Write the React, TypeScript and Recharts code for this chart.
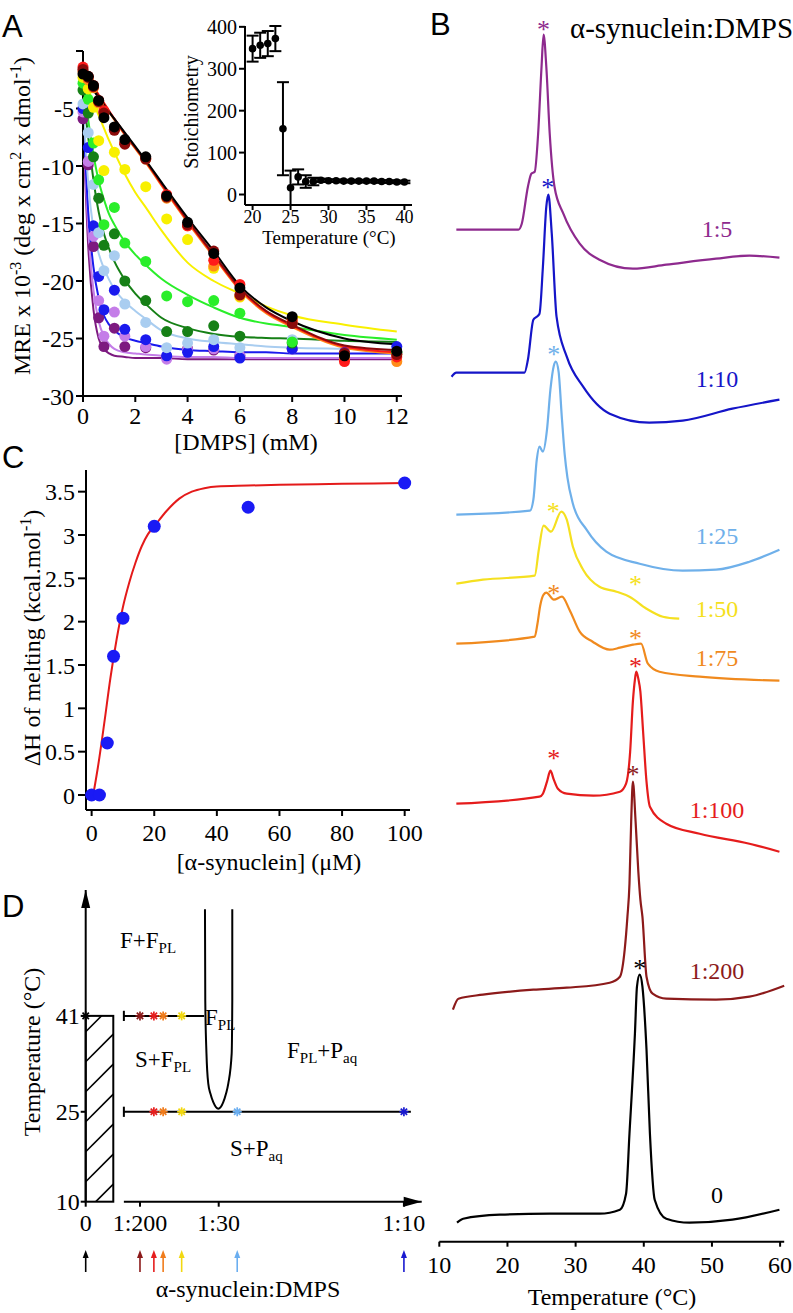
import React from 'react';
import {
  ComposedChart, Line, Scatter, XAxis, YAxis, ErrorBar, ReferenceLine, ReferenceArea, Cell,
} from 'recharts';

const SERIF = '"Liberation Serif", "Times New Roman", serif';
const SANS = '"Liberation Sans", Arial, sans-serif';

// ---------- A: MRE vs [DMPS] (points + fits, one trace per temperature)
const dmpsMM = [0, 0.2, 0.4, 0.6, 0.8, 1.2, 1.6, 2.4, 3.2, 4, 5, 6, 8, 10, 12];
const mrePurple = [-5.9, -9.9, -17.0, -23.2, -25.7, -24.1, -25.7, -25.8, -26.6, -25.9, -26.0, -26.5, -25.9, -26.2, -26.3];
const mreViolet = [-5.3, -9.6, -16.1, -21.7, -24.8, -22.7, -24.8, -25.7, -26.8, -26.0, -25.9, -26.5, -25.9, -26.4, -26.3];
const mreBlue = [-5.0, -8.4, -15.2, -19.6, -22.5, -20.8, -24.2, -25.1, -26.5, -26.2, -25.7, -26.7, -25.9, -26.4, -25.7];
const mreSky = [-4.6, -7.1, -11.6, -15.8, -19.1, -17.8, -22.0, -23.6, -25.8, -25.4, -25.1, -25.8, -25.1, -26.4, -26.2];
const mreGreen = [-3.4, -5.4, -9.2, -12.8, -16.9, -15.9, -20.0, -21.7, -24.4, -24.4, -23.9, -24.8, -25.4, -26.4, -26.2];
const mreLime = [-2.8, -4.2, -8.0, -11.2, -15.1, -13.6, -16.7, -18.3, -21.3, -21.8, -21.7, -22.8, -25.3, -26.4, -26.2];
const mreYellow = [-2.3, -3.3, -4.9, -7.8, -10.4, -8.8, -10.3, -11.8, -14.6, -16.4, -18.9, -21.4, -23.3, -26.4, -26.4];
const mreOrange = [-1.8, -2.5, -3.2, -4.5, -5.3, -6.8, -8.0, -9.4, -12.8, -15.2, -18.7, -21.3, -23.6, -26.8, -27.0];
const mreRed = [-1.4, -2.2, -3.0, -4.3, -5.2, -6.8, -8.0, -9.3, -12.5, -15.2, -18.2, -20.3, -23.4, -27.0, -26.6];
const mreDarkRed = [-1.6, -2.3, -3.1, -4.4, -5.4, -6.9, -8.1, -9.4, -12.7, -15.1, -17.4, -21.2, -23.7, -26.3, -26.4];
const mreBlack = [-2.0, -2.2, -3.0, -4.3, -5.8, -6.6, -7.7, -9.2, -12.6, -14.9, -17.6, -20.6, -23.1, -26.5, -26.1];

const fitMM = [0, 0.2, 0.4, 0.6, 0.8, 1, 1.2, 1.6, 2, 2.4, 3, 4, 5, 6, 7, 8, 10, 12];
const fitPurple = [-6.0, -17.0, -22.5, -25.0, -25.9, -26.3, -26.5, -26.6, -26.7, -26.7, -26.7, -26.8, -26.8, -26.8, -26.8, -26.8, -26.8, -26.8];
const fitViolet = [-5.5, -15.5, -20.8, -23.5, -24.8, -25.5, -25.9, -26.2, -26.3, -26.4, -26.5, -26.6, -26.6, -26.7, -26.7, -26.7, -26.7, -26.7];
const fitBlue = [-5.0, -14.0, -18.8, -21.5, -23.0, -23.8, -24.3, -24.9, -25.2, -25.4, -25.7, -26.0, -26.1, -26.2, -26.2, -26.3, -26.3, -26.3];
const fitSky = [-4.5, -11.5, -15.5, -17.6, -18.9, -19.9, -20.7, -21.8, -22.6, -23.3, -24.3, -25.0, -25.3, -25.5, -25.7, -25.8, -25.9, -26.0];
const fitGreen = [-3.5, -7.5, -11.2, -14.0, -15.9, -17.2, -18.3, -19.9, -21.1, -22.0, -23.2, -24.1, -24.6, -24.85, -24.95, -25.0, -25.2, -25.3];
const fitLime = [-2.8, -6.0, -9.0, -11.3, -12.9, -14.2, -15.1, -16.6, -17.7, -18.6, -19.8, -21.2, -22.3, -23.2, -23.7, -24.0, -24.7, -25.1];
const fitYellow = [-2.2, -3.3, -4.5, -5.6, -6.7, -7.8, -8.8, -10.7, -12.3, -13.6, -15.6, -18.4, -20.0, -21.1, -22.2, -23.0, -23.8, -24.4];
const fitOrange = [-1.8, -2.5, -3.2, -3.9, -4.6, -5.3, -6.0, -7.3, -8.5, -9.7, -11.7, -14.9, -17.9, -20.8, -22.8, -24.0, -25.8, -26.3];
const fitRed = [-1.5, -2.3, -3.1, -3.8, -4.5, -5.2, -5.9, -7.2, -8.4, -9.6, -11.6, -14.8, -17.8, -20.7, -22.7, -23.9, -25.7, -26.2];
const fitDarkRed = [-1.7, -2.4, -3.2, -3.9, -4.6, -5.3, -5.9, -7.2, -8.4, -9.6, -11.5, -14.7, -17.7, -20.6, -22.6, -23.8, -25.6, -26.0];
const fitBlack = [-2.0, -2.7, -3.4, -4.1, -4.7, -5.3, -5.9, -7.1, -8.3, -9.5, -11.4, -14.5, -17.4, -20.4, -22.3, -23.5, -25.0, -25.5];

// inset: stoichiometry vs temperature
const insetTemp = [20, 21, 22, 23, 24, 25, 26, 27, 28, 29, 30, 31, 32, 33, 34, 35, 36, 37, 38, 39, 40];
const stoich = [348, 356, 360, 372, 157, 16, 42, 31, 31, 34, 33, 33, 32, 32, 32, 32, 32, 31, 31, 30, 30];
const stoichErr = [31, 30, 30, 30, 111, 41, 18, 15, 9, 4, 3, 3, 3, 3, 3, 3, 3, 3, 3, 3, 3];

// ---------- C: enthalpy vs [alpha-synuclein]
const synUM = [0, 2.5, 5, 7, 10, 20, 50, 100];
const dHmelt = [0, 0, 0.6, 1.6, 2.04, 3.1, 3.32, 3.6];
const fitUM = [0.5, 2, 4, 6, 8, 10, 12, 14, 16, 18, 20, 24, 28, 32, 36, 40, 50, 60, 80, 100];
const fitDH = [0, 0.32, 0.82, 1.35, 1.8, 2.17, 2.45, 2.68, 2.87, 3.01, 3.1, 3.28, 3.42, 3.5, 3.54, 3.56, 3.57, 3.58, 3.59, 3.6];

// ---------- B: DSC thermograms (offset Cp, arbitrary units)
const t5 = [12.5, 21.6, 22.1, 23.0, 23.5, 24.0, 24.5, 25.0, 25.3, 25.7, 26.2, 26.9, 28.2, 30.6, 33.5, 38.4, 43.3, 50.6, 55.5, 59.9];
const cp5 = [1012, 1012, 1018, 1055, 1068, 1070, 1108, 1175, 1207, 1175, 1108, 1055, 1028, 998, 982, 973, 977, 983, 986, 984];
const t10 = [11.8, 12.5, 22.5, 23.0, 23.8, 24.3, 24.7, 25.2, 25.7, 26.0, 26.5, 27.2, 28.7, 31.1, 35.0, 40.8, 45.7, 53.0, 59.9];
const cp10 = [865, 869, 869, 882, 922, 925, 928, 975, 1035, 1047, 1008, 925, 885, 855, 828, 819, 821, 833, 842];
const t25 = [12.5, 23.3, 23.8, 24.3, 24.7, 25.2, 25.8, 26.3, 26.8, 27.1, 27.5, 28.0, 28.4, 28.8, 29.6, 31.6, 34.5, 39.4, 45.7, 50.6, 55.5, 59.9];
const cp25 = [727, 731, 742, 782, 795, 790, 812, 852, 876, 880, 870, 822, 787, 764, 738, 712, 690, 678, 671, 672, 680, 692];
const t50 = [12.5, 16.4, 24.0, 24.6, 25.3, 26.4, 27.9, 28.7, 29.6, 31.1, 33.5, 36.0, 37.9, 40.4, 42.8, 45.2];
const cp50 = [658, 662, 666, 692, 716, 710, 730, 722, 695, 672, 655, 650, 645, 633, 625, 623];
const t75 = [12.5, 24.0, 24.4, 24.8, 25.3, 25.7, 26.8, 28.0, 29.1, 30.6, 32.5, 35.0, 36.5, 38.4, 39.6, 40.6, 42.3, 48.2, 59.9];
const cp75 = [598, 605, 618, 636, 647, 649, 642, 645, 632, 610, 600, 592, 594, 597, 598, 578, 570, 565, 561];
const t100 = [12.5, 24.7, 25.2, 25.8, 26.3, 26.8, 27.4, 28.7, 32.6, 36.5, 37.4, 38.0, 38.4, 38.7, 38.9, 39.2, 39.5, 39.9, 40.4, 40.9, 43.3, 48.2, 55.5, 59.9];
const cp100 = [438, 445, 448, 460, 471, 462, 453, 448, 446, 450, 458, 490, 540, 562, 570, 563, 550, 510, 460, 435, 418, 408, 398, 390];
const t200 = [12.0, 12.8, 16.4, 23.8, 28.7, 35.0, 36.5, 37.2, 37.6, 37.9, 38.15, 38.4, 38.8, 39.2, 39.5, 39.8, 40.4, 41.3, 43.3, 50.6, 55.5, 60.6];
const cp200 = [232, 243, 247, 252, 254, 259, 265, 292, 325, 358, 420, 460, 420, 370, 342, 325, 265, 248, 243, 242, 245, 256];
const t0 = [12.6, 13.5, 18.9, 26.2, 33.5, 36.5, 37.4, 37.9, 38.7, 39.0, 39.4, 39.8, 40.4, 40.9, 41.6, 43.3, 46.7, 53.0, 59.9];
const cp0 = [19, 23, 27, 28, 28, 32, 48, 108, 208, 255, 267, 255, 192, 108, 42, 23, 19, 22, 32];

const bStarT = [25.3, 25.9, 26.8, 26.7, 38.8, 26.8, 38.8, 26.8, 38.8, 38.4, 39.4];
const bStarCp = [1217, 1059, 892, 735, 662, 653, 608, 488, 580, 472, 278];
const bLabels = ['1:5', '1:10', '1:25', '1:50', '1:75', '1:100', '1:200', '0'];

// ---------- D: phase diagram (x = protein:lipid ratio, broken axis)
const lipidOnlyPos = -0.01454; // where the 0 sample sits, left of the break
const axisStart = -0.0008;
const boxRight = -0.00461;
const dXMax = 0.1064;
const dTicks = [lipidOnlyPos, 1 / 200, 1 / 30, 1 / 10];
const dTickLabels = ['0', '1:200', '1:30', '1:10'];
const line41End = 0.0281;
const line25End = 0.1025;
const uRatio = [0.02839, 0.0285, 0.02893, 0.02958, 0.03037, 0.03138, 0.03318, 0.03498, 0.03595, 0.03678, 0.038, 0.03822, 0.03822];
const uTemp = [58.8, 43.5, 34.7, 29.7, 28.0, 26.6, 25.5, 26.6, 28.0, 29.7, 34.7, 43.5, 58.8];
const star41 = [lipidOnlyPos, 1 / 200, 1 / 100, 1 / 75, 1 / 50];
const star25 = [1 / 100, 1 / 75, 1 / 50, 1 / 25, 1 / 10];
const sampleRatios = [lipidOnlyPos, 1 / 200, 1 / 100, 1 / 75, 1 / 50, 1 / 25, 1 / 10];

const C = {
  purple: '#7d1a80', violet: '#c47de8', blue: '#1a1aee', sky: '#a9cdf0', green: '#168016',
  lime: '#2aee2a', yellow: '#f8f000', orange: '#ff8c1a', red: '#ff1a1a', darkred: '#8b0a0a', black: '#000',
};
const B = {
  purple: '#8e2a8e', blue: '#1515c8', sky: '#6fb0ea', yellow: '#f5e020', orange: '#f08a1e',
  red: '#e51c1c', darkred: '#8c1a1a', black: '#000',
};

const pts = (xs: number[], ys: number[]) => xs.map((x, i) => ({ x, y: ys[i] }));

const aSeries = [
  { c: C.purple, p: mrePurple, f: fitPurple },
  { c: C.violet, p: mreViolet, f: fitViolet },
  { c: C.blue, p: mreBlue, f: fitBlue },
  { c: C.sky, p: mreSky, f: fitSky },
  { c: C.green, p: mreGreen, f: fitGreen },
  { c: C.lime, p: mreLime, f: fitLime },
  { c: C.yellow, p: mreYellow, f: fitYellow },
  { c: C.orange, p: mreOrange, f: fitOrange },
  { c: C.red, p: mreRed, f: fitRed },
  { c: C.darkred, p: mreDarkRed, f: fitDarkRed },
  { c: C.black, p: mreBlack, f: fitBlack },
];

const bSeries = [
  { c: B.purple, t: t5, v: cp5 },
  { c: B.blue, t: t10, v: cp10 },
  { c: B.sky, t: t25, v: cp25 },
  { c: B.yellow, t: t50, v: cp50 },
  { c: B.orange, t: t75, v: cp75 },
  { c: B.red, t: t100, v: cp100 },
  { c: B.darkred, t: t200, v: cp200 },
  { c: B.black, t: t0, v: cp0 },
];
const bStarColors = [B.purple, B.blue, B.sky, B.yellow, B.yellow, B.orange, B.orange, B.red, B.red, B.darkred, B.black];
const bLabelBase = [237, 387, 544, 617, 666, 818, 979, 1203];

const dStarColors41 = ['#000', '#8b1a1a', '#e61e1e', '#f07c1c', '#f2d810'];
const dStarColors25 = ['#e61e1e', '#f07c1c', '#f2d810', '#6aaef0', '#1a1ad0'];
const sampleColors = ['#000', '#8b1a1a', '#e61e1e', '#f07c1c', '#f2d810', '#6aaef0', '#1a1ad0'];

const axisPen = { stroke: '#000', strokeWidth: 2 };

// serif tick text; dy centres y-axis labels on the tick, hangs x-axis labels below it
const serifTick = (size: number, dy: string, fmt?: (v: any, i: number) => string) => (p: any) => (
  <text x={p.x} y={p.y} dy={dy} textAnchor={p.textAnchor} fontSize={size} fontFamily={SERIF} fill="#000">
    {fmt ? fmt(p.payload.value, p.index) : String(p.payload.value)}
  </text>
);

const circle = (r: number) => (p: any) => <circle cx={p.cx} cy={p.cy} r={r} fill={p.fill} />;
const bStar = (p: any) => (
  <text x={p.cx} y={p.cy + 13} textAnchor="middle" fontSize={26} fontFamily={SERIF} fill={p.fill}>*</text>
);
const dStar = (p: any) => (
  <g stroke={p.fill} strokeWidth={1.7}>
    {[0, 45, 90, 135].map((a) => {
      const dx = 4.5 * Math.cos((a * Math.PI) / 180);
      const dy = 4.5 * Math.sin((a * Math.PI) / 180);
      return <line key={a} x1={p.cx - dx} y1={p.cy - dy} x2={p.cx + dx} y2={p.cy + dy} />;
    })}
  </g>
);
const upHead = (p: any) => <path d={`M${p.cx},${p.cy} l-4.5,18 l9,0 z`} fill="#000" />;
const rightHead = (p: any) => <path d={`M${p.cx},${p.cy} l-18,-5 l0,10 z`} fill="#000" />;
const sampleArrow = (p: any) => (
  <g>
    <line x1={p.cx} y1={p.cy + 11} x2={p.cx} y2={p.cy - 5} stroke={p.fill} strokeWidth={1.6} />
    <path d={`M${p.cx},${p.cy - 11} l-3,8 l6,0 z`} fill={p.fill} />
  </g>
);
const hatchBox = (p: any) => {
  const { x, y, width, height } = p;
  const segs = [];
  for (let c = y + height + 10; c > y - width; c -= 30) {
    segs.push(<line key={c} x1={x} y1={c} x2={x + width} y2={c - width} />);
  }
  return (
    <g>
      <clipPath id="hatch-clip"><rect x={x} y={y} width={width} height={height} /></clipPath>
      <g clipPath="url(#hatch-clip)" stroke="#000" strokeWidth={1.6}>{segs}</g>
      <rect x={x} y={y} width={width} height={height} fill="none" stroke="#000" strokeWidth={2} />
    </g>
  );
};

const abs = (left: number, top: number) => ({ position: 'absolute' as const, left, top });

function PanelA() {
  return (
    <div style={abs(0, 0)}>
      <ComposedChart width={410} height={460} margin={{ top: 51, right: 8, bottom: 34, left: 20 }}>
        <XAxis type="number" dataKey="x" domain={[0, 12.2]} ticks={[0, 2, 4, 6, 8, 10, 12]} interval={0}
          axisLine={axisPen} tickLine={axisPen} tickSize={6} tickMargin={5} tick={serifTick(24, '0.71em')} height={30} />
        <YAxis type="number" domain={[-30, 0]} ticks={[-30, -25, -20, -15, -10, -5, 0]} interval={0} width={63}
          axisLine={axisPen} tickLine={axisPen} tickSize={7} tickMargin={2}
          tick={serifTick(24, '0.355em', (v) => (v === 0 ? '' : String(v)))} />
        {aSeries.map((s, i) => (
          <Line key={`f${i}`} data={pts(fitMM, s.f)} dataKey="y" type="monotone" stroke={s.c} strokeWidth={2}
            dot={false} isAnimationActive={false} />
        ))}
        {aSeries.map((s, i) => (
          <Scatter key={`p${i}`} data={pts(dmpsMM, s.p)} dataKey="y" fill={s.c} shape={circle(5.5)}
            isAnimationActive={false} />
        ))}
      </ComposedChart>
    </div>
  );
}

function InsetA() {
  const data = insetTemp.map((t, i) => ({ x: t, y: stoich[i], err: stoichErr[i] }));
  return (
    <div style={abs(185, 10)}>
      <ComposedChart width={236} height={240} margin={{ top: 16, right: 9, bottom: 20, left: 0 }}>
        <XAxis type="number" dataKey="x" domain={[19, 41]} ticks={[20, 25, 30, 35, 40]} interval={0}
          axisLine={axisPen} tickLine={axisPen} tickSize={5} tickMargin={0} tick={serifTick(18, '0.71em')} height={25} />
        <YAxis type="number" domain={[-21, 400]} ticks={[0, 100, 200, 300, 400]} interval={0} width={60}
          axisLine={axisPen} tickLine={axisPen} tickSize={6} tickMargin={2} tick={serifTick(20, '0.355em')} />
        <Scatter data={data} dataKey="y" fill="#000" shape={circle(3.8)} isAnimationActive={false}>
          <ErrorBar dataKey="err" direction="y" width={6} stroke="#000" strokeWidth={2} isAnimationActive={false} />
        </Scatter>
      </ComposedChart>
    </div>
  );
}

function PanelC() {
  return (
    <div style={abs(0, 440)}>
      <ComposedChart width={440} height={440} margin={{ top: 30, right: 30, bottom: 40, left: 0 }}>
        <XAxis type="number" dataKey="x" domain={[-1.8, 101.7]} ticks={[0, 20, 40, 60, 80, 100]} interval={0}
          axisLine={axisPen} tickLine={axisPen} tickSize={6} tickMargin={8} tick={serifTick(24, '0.71em')} height={30} />
        <YAxis type="number" domain={[-0.173, 3.75]} ticks={[0, 0.5, 1, 1.5, 2, 2.5, 3, 3.5]} interval={0} width={86}
          axisLine={axisPen} tickLine={axisPen} tickSize={8} tickMargin={3} tick={serifTick(24, '0.355em')} />
        <Line data={pts(fitUM, fitDH)} dataKey="y" type="monotone" stroke="#e41a1a" strokeWidth={2}
          dot={false} isAnimationActive={false} />
        <Scatter data={pts(synUM, dHmelt)} dataKey="y" fill="#1a1af5" shape={circle(6.5)} isAnimationActive={false} />
      </ComposedChart>
    </div>
  );
}

function PanelB() {
  return (
    <div style={abs(400, 0)}>
      <ComposedChart width={393} height={1313} margin={{ top: 0, right: 8.8, bottom: 31.3, left: 39.3 }}>
        <XAxis type="number" dataKey="x" domain={[10, 60.5]} ticks={[10, 20, 30, 40, 50, 60]} interval={0}
          axisLine={axisPen} tickLine={axisPen} tickSize={5} tickMargin={9} tick={serifTick(24, '0.71em')} height={40} />
        <YAxis hide type="number" domain={[0, 1241.7]} />
        {bSeries.map((s, i) => (
          <Line key={i} data={pts(s.t, s.v)} dataKey="y" type="monotone" stroke={s.c} strokeWidth={2.2}
            dot={false} isAnimationActive={false} />
        ))}
        <Scatter data={pts(bStarT, bStarCp)} dataKey="y" shape={bStar} isAnimationActive={false}>
          {bStarColors.map((c, i) => <Cell key={i} fill={c} />)}
        </Scatter>
      </ComposedChart>
    </div>
  );
}

function PanelD() {
  const seg = (x1: number, y1: number, x2: number, y2: number, k: string) => (
    <ReferenceLine key={k} segment={[{ x: x1, y: y1 }, { x: x2, y: y2 }]} stroke="#000" strokeWidth={2} />
  );
  return (
    <div style={abs(0, 880)}>
      <ComposedChart width={440} height={360} margin={{ top: 10, right: 18.3, bottom: 8.3, left: 0 }}>
        <XAxis type="number" dataKey="x" domain={[lipidOnlyPos, dXMax]} ticks={dTicks} interval={0}
          axisLine={false} tickLine={axisPen} tickSize={5} tickMargin={7}
          tick={serifTick(24, '0.71em', (_v, i) => dTickLabels[i])} height={30} />
        <YAxis type="number" domain={[10, 62]} ticks={[10, 25, 41]} interval={0} width={85.7}
          axisLine={axisPen} tickLine={axisPen} tickSize={5} tickMargin={1} tick={serifTick(24, '0.355em')} />
        <ReferenceArea x1={lipidOnlyPos} x2={boxRight} y1={10} y2={41} shape={hatchBox} />
        {seg(axisStart, 10, dXMax, 10, 'bottom')}
        {seg(axisStart, 41, line41End, 41, 'l41')}
        {seg(axisStart, 25, line25End, 25, 'l25')}
        {[10, 25, 41].map((t) => seg(axisStart, t - 0.85, axisStart, t + 0.85, `bar${t}`))}
        <Line data={pts(uRatio, uTemp)} dataKey="y" type="monotone" stroke="#000" strokeWidth={2}
          dot={false} isAnimationActive={false} />
        <Scatter data={[{ x: lipidOnlyPos, y: 62 }]} dataKey="y" shape={upHead} isAnimationActive={false} />
        <Scatter data={[{ x: dXMax, y: 10 }]} dataKey="y" shape={rightHead} isAnimationActive={false} />
        <Scatter data={star41.map((x) => ({ x, y: 41 }))} dataKey="y" shape={dStar} isAnimationActive={false}>
          {dStarColors41.map((c, i) => <Cell key={i} fill={c} />)}
        </Scatter>
        <Scatter data={star25.map((x) => ({ x, y: 25 }))} dataKey="y" shape={dStar} isAnimationActive={false}>
          {dStarColors25.map((c, i) => <Cell key={i} fill={c} />)}
        </Scatter>
      </ComposedChart>
    </div>
  );
}

function SampleArrows() {
  return (
    <div style={abs(0, 1240)}>
      <ComposedChart width={440} height={40} margin={{ top: 5, right: 18.3, bottom: 3, left: 85.7 }}>
        <XAxis hide type="number" dataKey="x" domain={[lipidOnlyPos, dXMax]} />
        <YAxis hide type="number" domain={[-1, 1]} />
        <Scatter data={sampleRatios.map((x) => ({ x, y: 0 }))} dataKey="y" shape={sampleArrow}
          isAnimationActive={false}>
          {sampleColors.map((c, i) => <Cell key={i} fill={c} />)}
        </Scatter>
      </ComposedChart>
    </div>
  );
}

function Labels() {
  const sub = { fontSize: 15 };
  const sup = { fontSize: 16 };
  return (
    <svg width={793} height={1313} style={{ position: 'absolute', left: 0, top: 0, pointerEvents: 'none' }}
      fontFamily={SERIF} fill="#000">
      <text x={2} y={37} fontFamily={SANS} fontSize={31}>A</text>
      <text x={430} y={35} fontFamily={SANS} fontSize={31}>B</text>
      <text x={2} y={468} fontFamily={SANS} fontSize={31}>C</text>
      <text x={2} y={917} fontFamily={SANS} fontSize={31}>D</text>

      <text transform="rotate(-90 30 216)" x={30} y={216} textAnchor="middle" fontSize={24}>
        MRE x 10<tspan dy={-9} {...sup}>-3</tspan><tspan dy={9}> (deg x cm</tspan>
        <tspan dy={-9} {...sup}>2</tspan><tspan dy={9}> x dmol</tspan>
        <tspan dy={-9} {...sup}>-1</tspan><tspan dy={9}>)</tspan>
      </text>
      <text x={246} y={450} textAnchor="middle" fontSize={24}>[DMPS] (mM)</text>
      <text transform="rotate(-90 198 112)" x={198} y={112} textAnchor="middle" fontSize={20}>Stoichiometry</text>
      <text x={329} y={244} textAnchor="middle" fontSize={19}>Temperature (°C)</text>

      <text transform="rotate(-90 40 638)" x={40} y={638} textAnchor="middle" fontSize={24}>
        ΔH of melting (kcal.mol<tspan dy={-9} {...sup}>-1</tspan><tspan dy={9}>)</tspan>
      </text>
      <text x={269} y={870} textAnchor="middle" fontSize={24}>[α-synuclein] (μM)</text>

      <text transform="rotate(-90 40 1052)" x={40} y={1052} textAnchor="middle" fontSize={24}>Temperature (°C)</text>
      <text x={248} y={1297} textAnchor="middle" fontSize={24}>α-synuclein:DMPS</text>
      <text x={120} y={948} fontSize={23}>F+F<tspan dy={5} {...sub}>PL</tspan></text>
      <text x={205} y={1025} fontSize={23}>F<tspan dy={5} {...sub}>PL</tspan></text>
      <text x={135} y={1067} fontSize={23}>S+F<tspan dy={5} {...sub}>PL</tspan></text>
      <text x={287} y={1058} fontSize={23}>
        F<tspan dy={5} {...sub}>PL</tspan><tspan dy={-5}>+P</tspan><tspan dy={5} {...sub}>aq</tspan>
      </text>
      <text x={230} y={1156} fontSize={23}>S+P<tspan dy={5} {...sub}>aq</tspan></text>

      <text x={570} y={38} fontSize={29}>α-synuclein:DMPS</text>
      {bLabels.map((l, i) => (
        <text key={l} x={717} y={bLabelBase[i]} textAnchor="middle" fontSize={24} fill={bSeries[i].c}>{l}</text>
      ))}
      <text x={612} y={1305} textAnchor="middle" fontSize={24}>Temperature (°C)</text>
    </svg>
  );
}

export default function App() {
  return (
    <div style={{
      position: 'absolute', left: 0, top: 0, width: 793, height: 1313, background: '#fff',
      overflow: 'hidden', fontFamily: SERIF,
    }}>
      <PanelA />
      <InsetA />
      <PanelC />
      <PanelB />
      <PanelD />
      <SampleArrows />
      <Labels />
    </div>
  );
}
